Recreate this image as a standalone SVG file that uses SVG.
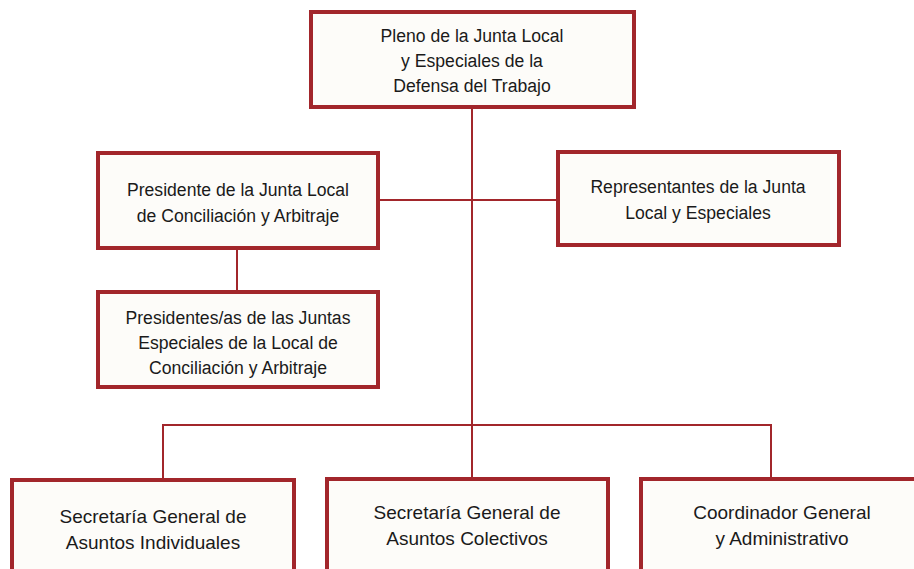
<svg xmlns="http://www.w3.org/2000/svg" width="914" height="569" viewBox="0 0 914 569">
<style>
.box{fill:#fdfcf9;stroke:#a2262b;stroke-width:4}
.conn{stroke:#a2262b;stroke-width:2;fill:none}
text{font-family:"Liberation Sans",Arial,sans-serif;font-size:17.6px;fill:#1a1a1a;text-anchor:middle}
.big{font-size:19px}
</style>
<rect width="914" height="569" fill="#ffffff"/>
<g id="connectors">
<line class="conn" x1="472" y1="107" x2="472" y2="479"/>
<line class="conn" x1="378" y1="200" x2="557" y2="200"/>
<line class="conn" x1="237" y1="248" x2="237" y2="292"/>
<polyline class="conn" points="163,479 163,425 771,425 771,479"/>
</g>
<g id="pleno">
<rect class="box" x="311" y="12" width="323" height="95"/>
<text x="472" y="42">Pleno de la Junta Local</text>
<text x="472" y="67">y Especiales de la</text>
<text x="472" y="92">Defensa del Trabajo</text>
</g>
<g id="presidente">
<rect class="box" x="98" y="153" width="280" height="95"/>
<text x="238" y="196">Presidente de la Junta Local</text>
<text x="238" y="222">de Conciliación y Arbitraje</text>
</g>
<g id="representantes">
<rect class="box" x="558" y="152" width="281" height="93"/>
<text x="698" y="193">Representantes de la Junta</text>
<text x="698" y="219">Local y Especiales</text>
</g>
<g id="presidentes-as">
<rect class="box" x="98" y="292" width="280" height="95"/>
<text x="238" y="324">Presidentes/as de las Juntas</text>
<text x="238" y="349">Especiales de la Local de</text>
<text x="238" y="374">Conciliación y Arbitraje</text>
</g>
<g id="sec-individuales">
<rect class="box" x="12" y="480" width="282" height="100"/>
<text class="big" x="153" y="523">Secretaría General de</text>
<text class="big" x="153" y="549">Asuntos Individuales</text>
</g>
<g id="sec-colectivos">
<rect class="box" x="327" y="479" width="281" height="100"/>
<text class="big" x="467" y="519">Secretaría General de</text>
<text class="big" x="467" y="545">Asuntos Colectivos</text>
</g>
<g id="coordinador">
<rect class="box" x="641" y="479" width="290" height="100"/>
<text class="big" x="782" y="519">Coordinador General</text>
<text class="big" x="782" y="545">y Administrativo</text>
</g>
</svg>
